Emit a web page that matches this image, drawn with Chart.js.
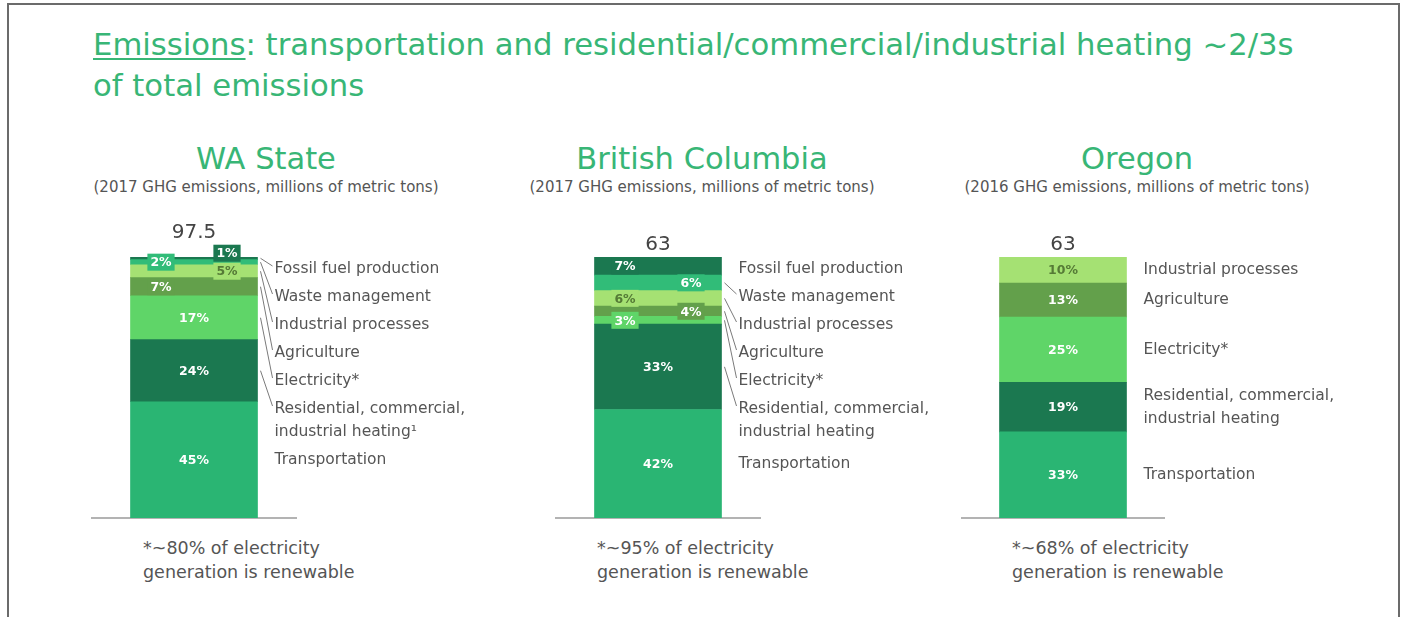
<!DOCTYPE html>
<html>
<head>
<meta charset="utf-8">
<title>Emissions by sector</title>
<script src="https://cdn.jsdelivr.net/npm/chart.js@4.4.1/dist/chart.umd.min.js"></script>
<style>
  html, body { margin: 0; padding: 0; background: #fff; }
  body {
    width: 1404px; height: 617px; overflow: hidden; position: relative;
    font-family: 'DejaVu Sans', sans-serif;
  }
  .slide {
    position: absolute; left: 7px; top: 3px; width: 1393px; height: 700px;
    border: 2px solid #6b6b6b; box-sizing: border-box;
  }
  h1 {
    position: absolute; left: 93px; top: 24px; margin: 0;
    font-size: 30.7px; line-height: 41px; font-weight: normal; color: #38b676;
  }
  h1 u { text-decoration-thickness: 2px; text-underline-offset: 3px; }
  .head { position: absolute; width: 500px; text-align: center; top: 141px; }
  .head h2 { margin: 0; font-size: 30.5px; line-height: 36px; font-weight: normal; color: #38b676; }
  .head p { margin: 1px 0 0; font-size: 15px; line-height: 18px; color: #555; }
  .note { position: absolute; top: 536px; font-size: 17.5px; line-height: 24px; color: #555; }
  canvas { position: absolute; top: 200px; }
</style>
</head>
<body>
<div class="slide"></div>
<h1><u>Emissions</u>: transportation and residential/commercial/industrial heating ~2/3s<br>of total emissions</h1>

<div class="head" style="left:16px"><h2>WA State</h2><p>(2017 GHG emissions, millions of metric tons)</p></div>
<div class="head" style="left:452px"><h2>British Columbia</h2><p>(2017 GHG emissions, millions of metric tons)</p></div>
<div class="head" style="left:887px"><h2>Oregon</h2><p>(2016 GHG emissions, millions of metric tons)</p></div>

<canvas id="waChart" width="464" height="330" style="left:72px"></canvas>
<canvas id="bcChart" width="464" height="330" style="left:536px"></canvas>
<canvas id="orChart" width="462" height="330" style="left:942px"></canvas>

<div class="note" style="left:143px">*~80% of electricity<br>generation is renewable</div>
<div class="note" style="left:597px">*~95% of electricity<br>generation is renewable</div>
<div class="note" style="left:1012px">*~68% of electricity<br>generation is renewable</div>

<script>
// Sector shares (percent of total), listed top of the bar to bottom
const waCategories = ['Fossil fuel production', 'Waste management', 'Industrial processes', 'Agriculture', 'Electricity*', ['Residential, commercial,', 'industrial heating¹'], 'Transportation'];
const waShares = [1, 2, 5, 7, 17, 24, 45];
const waTotal = '97.5';

const bcCategories = ['Fossil fuel production', 'Waste management', 'Industrial processes', 'Agriculture', 'Electricity*', ['Residential, commercial,', 'industrial heating'], 'Transportation'];
const bcShares = [7, 6, 6, 4, 3, 33, 42];
const bcTotal = '63';

const orCategories = ['Industrial processes', 'Agriculture', 'Electricity*', ['Residential, commercial,', 'industrial heating'], 'Transportation'];
const orShares = [10, 13, 25, 19, 33];
const orTotal = '63';

const sectorColors = {
    'Fossil fuel production': '#1b7850',
    'Waste management': '#31bc78',
    'Industrial processes': '#a5e173',
    'Agriculture': '#63a04b',
    'Electricity*': '#5fd568',
    'Residential, commercial,': '#1b7850',
    'Transportation': '#2ab573'
};

const FONT = "'DejaVu Sans', sans-serif";

// Draws the % tags on the bar, the sector names with leader lines and the total on top
const segmentLabels = {
    id: 'segmentLabels',
    afterDatasetsDraw(chart, args, opts) {
        const ctx = chart.ctx;
        const area = chart.chartArea;
        const bars = chart.data.datasets.map((ds, i) => chart.getDatasetMeta(i).data[0]);
        let topMost = area.top;

        ctx.save();
        ctx.textAlign = 'center';
        ctx.textBaseline = 'middle';
        ctx.font = 'bold 12.5px ' + FONT;

        // percentage tags, bottom of the stack upwards
        let side = -1;
        const lastTop = { '-1': Infinity, '1': Infinity };
        chart.data.datasets.forEach((ds, i) => {
            const bar = bars[i];
            const h = bar.base - bar.y;
            const cy = (bar.y + bar.base) / 2;
            const text = ds.data[0] + '%';
            const ink = ds.label === 'Industrial processes' ? '#557a36' : '#ffffff';
            if (h >= 20) {
                ctx.fillStyle = ink;
                ctx.fillText(text, bar.x, cy + 1);
                return;
            }
            const x = bar.x + side * 33;
            const w = ctx.measureText(text).width + 6;
            const bh = 17;
            const boxBottom = Math.min(cy + bh / 2, lastTop[side] - 1);
            const boxTop = boxBottom - bh;
            lastTop[side] = boxTop;
            topMost = Math.min(topMost, boxTop);
            ctx.fillStyle = ds.backgroundColor;
            ctx.fillRect(x - w / 2, boxTop, w, bh);
            ctx.fillStyle = ink;
            ctx.fillText(text, x, boxTop + bh / 2 + 1);
            side = -side;
        });

        // sector names to the right, top to bottom
        ctx.font = '15.5px ' + FONT;
        ctx.textAlign = 'left';
        ctx.fillStyle = '#555555';
        ctx.strokeStyle = '#7a7a7a';
        ctx.lineWidth = 1;
        const barRight = bars[0].x + bars[0].width / 2;
        const labelX = barRight + 17;
        let minY = area.top + 12;
        for (let i = chart.data.datasets.length - 1; i >= 0; i--) {
            const ds = chart.data.datasets[i];
            const bar = bars[i];
            const cy = (bar.y + bar.base) / 2;
            const lines = ds.lines;
            const first = Math.max(cy - (lines.length - 1) * 11.5, minY);
            lines.forEach((line, k) => ctx.fillText(line, labelX, first + k * 23));
            if (Math.abs(first + (lines.length - 1) * 11.5 - cy) > 6) {
                ctx.beginPath();
                ctx.moveTo(barRight + 3, cy);
                ctx.lineTo(labelX - 2, first - 3);
                ctx.stroke();
            }
            minY = first + (lines.length - 1) * 23 + 28;
        }

        // total above the bar
        ctx.textAlign = 'center';
        ctx.fillStyle = '#444444';
        ctx.font = '20px ' + FONT;
        ctx.fillText(opts.total, bars[0].x, topMost - 12);
        ctx.restore();
    }
};

function drawRegion(canvasId, categories, shares, total) {
    // Chart.js stacks the first dataset at the bottom, so walk the list upwards
    const datasets = shares.map((v, i) => i).reverse().map(i => {
        const lines = [].concat(categories[i]);
        return {
            label: lines[0],
            lines: lines,
            data: [shares[i]],
            backgroundColor: sectorColors[lines[0]],
            borderWidth: 0,
            barThickness: 127
        };
    });

    new Chart(document.getElementById(canvasId), {
        type: 'bar',
        data: { labels: [''], datasets: datasets },
        options: {
            responsive: false,
            animation: false,
            layout: { padding: { left: 20, right: 240, top: 57, bottom: 12 } },
            plugins: {
                legend: { display: false },
                tooltip: { enabled: false },
                segmentLabels: { total: total }
            },
            scales: {
                x: {
                    stacked: true,
                    grid: { display: false, drawTicks: false },
                    ticks: { display: false },
                    border: { display: true, color: '#b3b3b3', width: 2 }
                },
                y: {
                    stacked: true,
                    display: false,
                    min: 0,
                    max: shares.reduce((a, b) => a + b, 0)
                }
            }
        },
        plugins: [segmentLabels]
    });
}

drawRegion('waChart', waCategories, waShares, waTotal);
drawRegion('bcChart', bcCategories, bcShares, bcTotal);
drawRegion('orChart', orCategories, orShares, orTotal);
</script>
</body>
</html>
